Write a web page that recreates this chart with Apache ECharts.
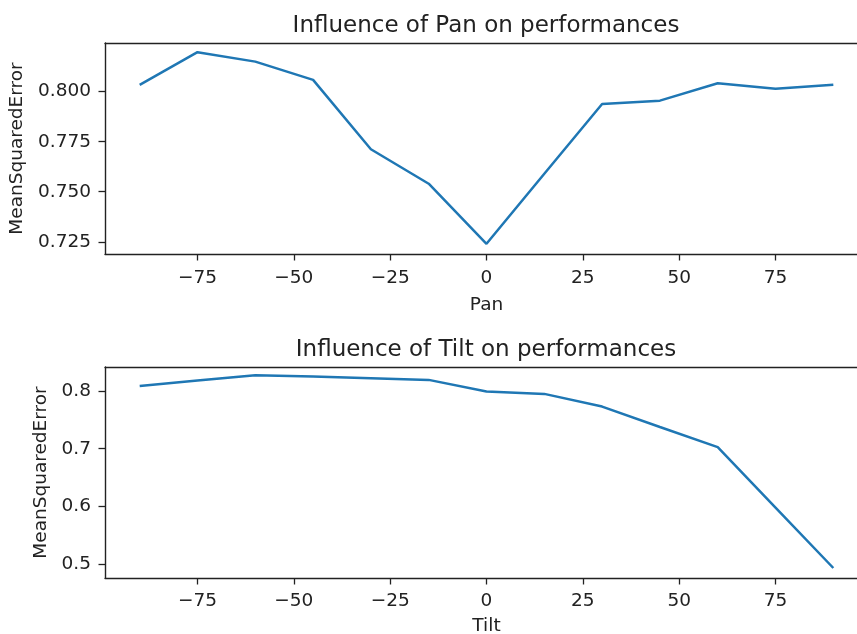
<!DOCTYPE html>
<html>
<head>
<meta charset="utf-8">
<script src="https://cdn.jsdelivr.net/npm/echarts@6/dist/echarts.min.js"></script>
<style>
  html, body { margin: 0; padding: 0; background: #fff; overflow: hidden; }
  /* The plotting area runs past the right edge of the page, so the
     chart canvas is wider than the visible frame and clipped by it. */
  #frame { width: 857px; height: 634px; overflow: hidden; position: relative; }
  #chart { width: 890px; height: 634px; position: absolute; left: 0; top: 0; }
</style>
</head>
<body>
<div id="frame"><div id="chart"></div></div>
<script>
// Angles swept for each sensor setting (degrees)
const panAngles  = [-90, -75, -60, -45, -30, -15, 0, 15, 30, 45, 60, 75, 90];
const tiltAngles = [-90, -75, -60, -45, -30, -15, 0, 15, 30, 45, 60, 75, 90];

// Mean squared error measured at each angle
const panMSE  = [0.8034, 0.8197, 0.8150, 0.8059, 0.7712, 0.7540, 0.7240, 0.7590, 0.7938, 0.7955, 0.8042, 0.8014, 0.8034];
const tiltMSE = [0.8086, 0.8180, 0.8271, 0.8247, 0.8220, 0.8190, 0.7990, 0.7948, 0.7729, 0.7375, 0.7028, 0.5983, 0.4938];

// Tick positions and axis limits
const xTicks     = [-75, -50, -25, 0, 25, 50, 75];
const xLimits    = [-99, 99];
const panYTicks  = [0.725, 0.750, 0.775, 0.800];
const panYLimits = [0.7189, 0.8243];
const tiltYTicks  = [0.5, 0.6, 0.7, 0.8];
const tiltYLimits = [0.4765, 0.8413];

const FONT = 'DejaVu Sans';
const INK = '#222';
const LINE = '#1f77b4';

const minus = v => (v < 0 ? '\u2212' + Math.abs(v) : String(v));

function xAxis(gridIndex, name, labelMargin, nameGap) {
  return {
    type: 'value', gridIndex, min: xLimits[0], max: xLimits[1],
    name, nameLocation: 'middle', nameGap,
    nameTextStyle: { fontFamily: FONT, fontSize: 18.5, color: INK, verticalAlign: 'top' },
    axisLine: { show: true, onZero: false, lineStyle: { color: INK, width: 1.4 } },
    axisTick: { show: true, length: 6.5, customValues: xTicks, lineStyle: { color: INK, width: 1.3 } },
    axisLabel: { customValues: xTicks, margin: labelMargin, fontFamily: FONT, fontSize: 18.5, color: INK, formatter: minus },
    splitLine: { show: false }
  };
}

// Top spine of each panel: a bare axis line with no ticks or labels
function topSpine(gridIndex) {
  return {
    type: 'value', gridIndex, position: 'top', min: xLimits[0], max: xLimits[1],
    axisLine: { show: true, onZero: false, lineStyle: { color: INK, width: 1.4 } },
    axisTick: { show: false }, axisLabel: { show: false }, splitLine: { show: false }
  };
}

function yAxis(gridIndex, ticks, limits, digits, nameGap) {
  return {
    type: 'value', gridIndex, min: limits[0], max: limits[1],
    name: 'MeanSquaredError', nameLocation: 'middle', nameGap,
    nameTextStyle: { fontFamily: FONT, fontSize: 18.5, color: INK },
    axisLine: { show: true, onZero: false, lineStyle: { color: INK, width: 1.4 } },
    axisTick: { show: true, length: 6.5, customValues: ticks, lineStyle: { color: INK, width: 1.3 } },
    axisLabel: { customValues: ticks, margin: 14, fontFamily: FONT, fontSize: 18.5, color: INK,
                 formatter: v => v.toFixed(digits) },
    splitLine: { show: false }
  };
}

const chart = echarts.init(document.getElementById('chart'), null, { renderer: 'canvas' });

chart.setOption({
  animation: false,
  backgroundColor: '#fff',
  title: [
    { text: 'Influence of Pan on performances', left: 481, top: 10, textAlign: 'center',
      textStyle: { fontFamily: FONT, fontSize: 23, fontWeight: 'normal', color: INK } },
    { text: 'Influence of Tilt on performances', left: 481, top: 333.5, textAlign: 'center',
      textStyle: { fontFamily: FONT, fontSize: 23, fontWeight: 'normal', color: INK } }
  ],
  grid: [
    { left: 105, top: 43, width: 763, height: 211, outerBoundsMode: 'none', show: false },
    { left: 105, top: 367, width: 763, height: 211, outerBoundsMode: 'none', show: false }
  ],
  xAxis: [
    xAxis(0, 'Pan', 15, 41.5),
    xAxis(1, 'Tilt', 13.5, 38.5),
    topSpine(0),
    topSpine(1)
  ],
  yAxis: [
    yAxis(0, panYTicks, panYLimits, 3, 73),
    yAxis(1, tiltYTicks, tiltYLimits, 1, 50)
  ],
  series: [
    { type: 'line', xAxisIndex: 0, yAxisIndex: 0, data: panAngles.map((a, i) => [a, panMSE[i]]),
      showSymbol: false, lineStyle: { color: LINE, width: 2.5 }, itemStyle: { color: LINE } },
    { type: 'line', xAxisIndex: 1, yAxisIndex: 1, data: tiltAngles.map((a, i) => [a, tiltMSE[i]]),
      showSymbol: false, lineStyle: { color: LINE, width: 2.5 }, itemStyle: { color: LINE } }
  ]
});
</script>
</body>
</html>
